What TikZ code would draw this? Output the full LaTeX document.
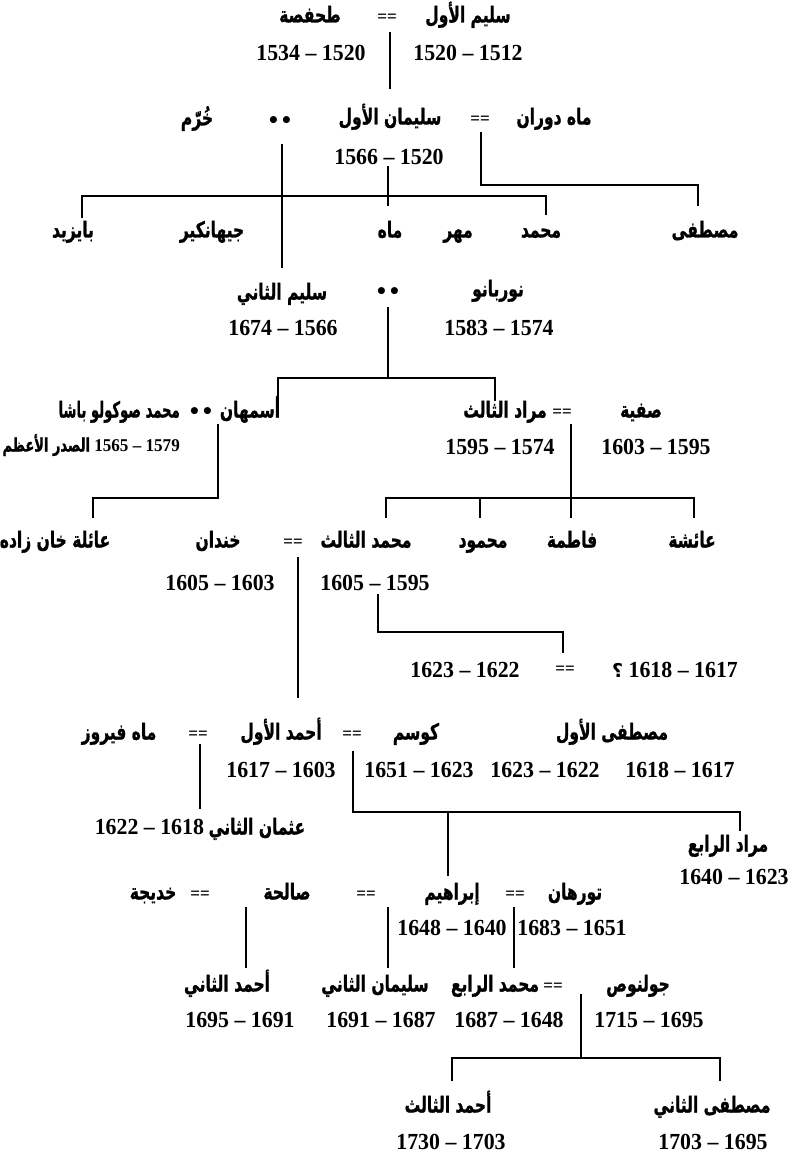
\documentclass[tikz,border=0pt]{standalone}
\usepackage{fontspec}
\TeXXeTstate=1
\newfontfamily\arabicfont[Script=Arabic,BoldFeatures={FakeBold=1.2}]{DejaVu Sans}
\newfontfamily\numfont[FakeStretch=0.95]{Liberation Serif}
\newfontfamily\symfont{DejaVu Sans}
\newcommand{\artx}[1]{\scalebox{1}[1.42]{\arabicfont\bfseries\beginR #1\endR}}
\newcommand{\nmtx}[1]{{\numfont\bfseries #1}}
\tikzset{
  ar/.style={font=\fontsize{15.5}{18}\selectfont, inner sep=0pt, text height=14pt, text depth=5pt},
  nm/.style={font=\fontsize{23}{26}\selectfont\numfont\bfseries, inner sep=0pt, text height=15pt, text depth=0pt},
  eq/.style={font=\fontsize{18}{18}\selectfont\numfont\bfseries, inner sep=0pt},
  st/.style={font=\fontsize{20}{20}\selectfont\symfont\bfseries, inner sep=0pt},
  ln/.style={line width=1.1pt, line cap=rect}
}
\begin{document}
\begin{tikzpicture}[x=1pt,y=-1pt]
\fill[white] (0,0) rectangle (791,1155);
\useasboundingbox (0,0) rectangle (791,1155);
% ---------- row 1
\node[ar] (selim1) at (468,18) {\artx{سليم الأول}};
\node[eq] (eq1) at (387,18) {==};
\node[ar] (hafsa) at (310,18) {\artx{طحفصة}};
\node[nm] (d1a) at (468,53) {1520 – 1512};
\node[nm] (d1b) at (311,53) {1534 – 1520};
% ---------- row 2
\node[ar] (khurrem) at (197,121) {\artx{خُرّم}};
\node[st] (st1) at (280,122) {••};
\node[ar] (suleiman) at (390,120) {\artx{سليمان الأول}};
\node[eq] (eq2) at (480,120) {==};
\node[ar] (mahdevran) at (554,120) {\artx{ماه دوران}};
\node[nm] (d2) at (389,157) {1566 – 1520};
% ---------- row 3
\node[ar] (bayezid) at (73,233) {\artx{بايزيد}};
\node[ar] (cihangir) at (212,233) {\artx{جيهانكير}};
\node[ar] (mah) at (390,233) {\artx{ماه}};
\node[ar] (mihr) at (458,233) {\artx{مهر}};
\node[ar] (mehmed) at (541,233) {\artx{محمد}};
\node[ar] (mustafa) at (705,233) {\artx{مصطفى}};
% ---------- row 4
\node[ar] (selim2) at (282,295) {\artx{سليم الثاني}};
\node[st] (st2) at (388,293) {••};
\node[ar] (nurbanu) at (498,292) {\artx{نوربانو}};
\node[nm] (d4a) at (283,328) {1674 – 1566};
\node[nm] (d4b) at (499,328) {1583 – 1574};
% ---------- row 5
\node[ar, anchor=east] (sokollu) at (180,413) {\scalebox{0.85}[1]{\artx{محمد صوكولو باشا}}};
\node[ar, anchor=east] (sadr) at (180,447) {\fontsize{13}{15}\selectfont\artx{الصدر الأعظم} \nmtx{\fontsize{18}{18}\selectfont 1565 – 1579}};
\node[st] (st3) at (201,413) {••};
\node[ar] (esmahan) at (250,413) {\artx{أسمهان}};
\node[ar] (murad3) at (505,413) {\artx{مراد الثالث}};
\node[eq] (eq3) at (562,413) {==};
\node[ar] (safiye) at (641,413) {\artx{صفية}};
\node[nm] (d5a) at (500,447) {1595 – 1574};
\node[nm] (d5b) at (656,447) {1603 – 1595};
% ---------- row 6
\node[ar] (khanzade) at (55,543) {\artx{عائلة خان زاده}};
\node[ar] (handan) at (218,543) {\artx{خندان}};
\node[eq] (eq4) at (293,543) {==};
\node[ar] (mehmed3) at (366,543) {\artx{محمد الثالث}};
\node[ar] (mahmud) at (483,543) {\artx{محمود}};
\node[ar] (fatma) at (572,543) {\artx{فاطمة}};
\node[ar] (aisha) at (692,543) {\artx{عائشة}};
\node[nm] (d6a) at (220,583) {1605 – 1603};
\node[nm] (d6b) at (375,583) {1605 – 1595};
% ---------- unnamed spouse row
\node[nm] (d6c) at (465,670) {1623 – 1622};
\node[eq] (eq5) at (565,670) {==};
\node[nm] (d6d) at (675,670) {{\symfont\bfseries\fontsize{19}{19}\selectfont ؟} 1618 – 1617};
% ---------- row 7
\node[ar] (mahfiruze) at (119,735) {\artx{ماه فيروز}};
\node[eq] (eq6) at (198,735) {==};
\node[ar] (ahmed1) at (281,735) {\artx{أحمد الأول}};
\node[eq] (eq7) at (352,735) {==};
\node[ar] (kosem) at (416,735) {\artx{كوسم}};
\node[ar] (mustafa1) at (612,735) {\artx{مصطفى الأول}};
\node[nm] (d7a) at (281,770) {1617 – 1603};
\node[nm] (d7b) at (419,770) {1651 – 1623};
\node[nm] (d7c) at (545,770) {1623 – 1622};
\node[nm] (d7d) at (680,770) {1618 – 1617};
\node[ar] (osman) at (200,830) {\nmtx{\fontsize{23}{23}\selectfont 1622 – 1618} \artx{عثمان الثاني}};
\node[ar] (murad4) at (728,847) {\artx{مراد الرابع}};
\node[nm] (d7e) at (734,877) {1640 – 1623};
% ---------- row 8
\node[ar] (hatice) at (153,895) {\artx{خديجة}};
\node[eq] (eq8) at (200,895) {==};
\node[ar] (saliha) at (287,895) {\artx{صالحة}};
\node[eq] (eq9) at (366,895) {==};
\node[ar] (ibrahim) at (452,895) {\artx{إبراهيم}};
\node[eq] (eq10) at (515,895) {==};
\node[ar] (turhan) at (575,895) {\artx{تورهان}};
\node[nm] (d8a) at (452,928) {1648 – 1640};
\node[nm] (d8b) at (572,928) {1683 – 1651};
% ---------- row 9
\node[ar] (ahmed2) at (227,987) {\artx{أحمد الثاني}};
\node[ar] (suleiman2) at (375,987) {\artx{سليمان الثاني}};
\node[ar] (mehmed4) at (495,987) {\artx{محمد الرابع}};
\node[eq] (eq11) at (553,987) {==};
\node[ar] (gulnus) at (638,987) {\artx{جولنوص}};
\node[nm] (d9a) at (240,1020) {1695 – 1691};
\node[nm] (d9b) at (381,1020) {1691 – 1687};
\node[nm] (d9c) at (509,1020) {1687 – 1648};
\node[nm] (d9d) at (649,1020) {1715 – 1695};
% ---------- row 10
\node[ar] (ahmed3) at (448,1108) {\artx{أحمد الثالث}};
\node[ar] (mustafa2) at (712,1108) {\artx{مصطفى الثاني}};
\node[nm] (d10a) at (451,1142) {1730 – 1703};
\node[nm] (d10b) at (713,1142) {1703 – 1695};
% ---------- connector points
\coordinate (a1) at (390,33);   \coordinate (a2) at (390,88);
\coordinate (b1) at (282,145);  \coordinate (b2) at (282,267);
\coordinate (c1) at (388,167);  \coordinate (c2) at (388,205);
\coordinate (e1) at (481,133);  \coordinate (e2) at (698,185);  \coordinate (e3) at (698,205);
\coordinate (f1) at (82,217);   \coordinate (f2) at (82,196);   \coordinate (f3) at (546,196); \coordinate (f4) at (546,214);
\coordinate (g1) at (388,308);  \coordinate (g2) at (388,378);
\coordinate (g3) at (278,400);  \coordinate (g4) at (278,378);  \coordinate (g5) at (495,378); \coordinate (g6) at (495,400);
\coordinate (h1) at (218,425);  \coordinate (h2) at (93,498);   \coordinate (h3) at (93,517);
\coordinate (i1) at (571,425);  \coordinate (i2) at (571,517);
\coordinate (i3) at (386,517);  \coordinate (i4) at (386,498);  \coordinate (i5) at (694,498); \coordinate (i6) at (694,517);
\coordinate (i7) at (480,498);  \coordinate (i8) at (480,517);
\coordinate (k1) at (298,558);  \coordinate (k2) at (298,697);
\coordinate (m1) at (378,595);  \coordinate (m2) at (563,632);  \coordinate (m3) at (563,652);
\coordinate (n1) at (200,745);  \coordinate (n2) at (200,808);
\coordinate (p1) at (353,752);  \coordinate (p2) at (740,812);  \coordinate (p3) at (740,830);
\coordinate (p4) at (448,812);  \coordinate (p5) at (448,875);
\coordinate (q1) at (246,908);  \coordinate (q2) at (246,967);
\coordinate (q3) at (388,908);  \coordinate (q4) at (388,967);
\coordinate (q5) at (514,908);  \coordinate (q6) at (514,967);
\coordinate (r1) at (581,995);  \coordinate (r2) at (581,1058);
\coordinate (r3) at (452,1080); \coordinate (r4) at (452,1058); \coordinate (r5) at (720,1058); \coordinate (r6) at (720,1080);
% ---------- connectors
\draw[ln] (a1) -- (a2);
\draw[ln] (b1) -- (b2);
\draw[ln] (c1) -- (c2);
\draw[ln] (e1) |- (e2) -- (e3);
\draw[ln] (f1) -- (f2) -- (f3) -- (f4);
\draw[ln] (g1) -- (g2);
\draw[ln] (g3) -- (g4) -- (g5) -- (g6);
\draw[ln] (h1) |- (h2) -- (h3);
\draw[ln] (i1) -- (i2);
\draw[ln] (i3) -- (i4) -- (i5) -- (i6);
\draw[ln] (i7) -- (i8);
\draw[ln] (k1) -- (k2);
\draw[ln] (m1) |- (m2) -- (m3);
\draw[ln] (n1) -- (n2);
\draw[ln] (p1) |- (p2) -- (p3);
\draw[ln] (p4) -- (p5);
\draw[ln] (q1) -- (q2);
\draw[ln] (q3) -- (q4);
\draw[ln] (q5) -- (q6);
\draw[ln] (r1) -- (r2);
\draw[ln] (r3) -- (r4) -- (r5) -- (r6);
\end{tikzpicture}
\end{document}
